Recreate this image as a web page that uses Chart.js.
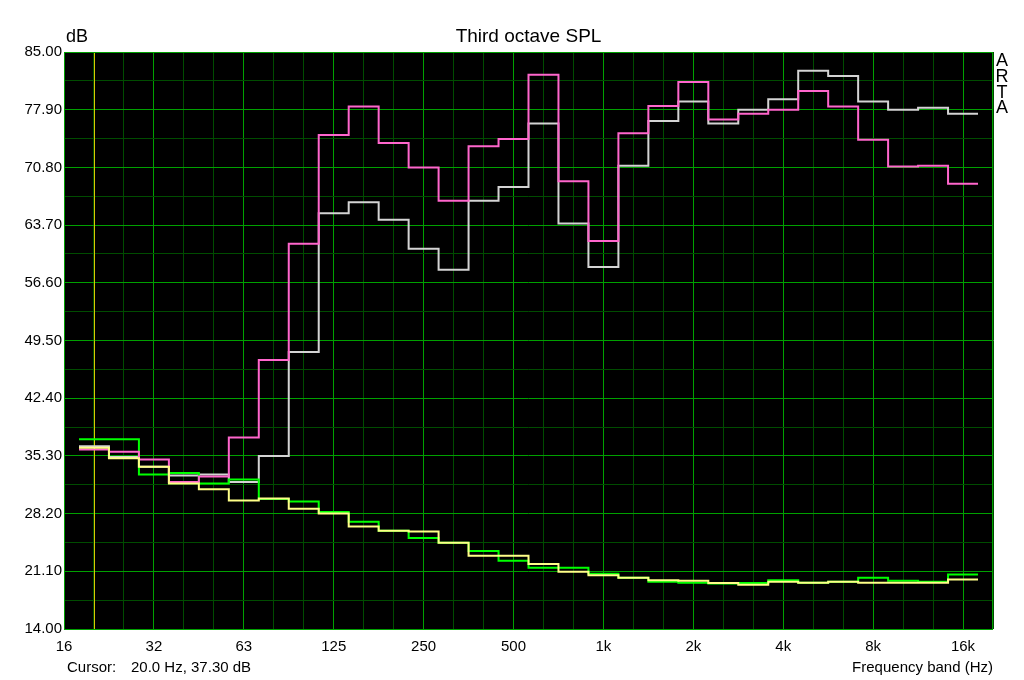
<!DOCTYPE html>
<html>
<head>
<meta charset="utf-8">
<title>Third octave SPL</title>
<script src="https://cdn.jsdelivr.net/npm/chart.js@4/dist/chart.umd.min.js"></script>
<style>
    html, body { margin: 0; padding: 0; background: #ffffff; }
    #wrap { width: 1024px; height: 680px; }
</style>
</head>
<body>
<div id="wrap"><canvas id="spl" width="1024" height="680"></canvas></div>
<script>
// Third octave bands (centre frequencies)
const bands = ['20', '25', '31.5', '40', '50', '63', '80', '100', '125', '160', '200', '250', '315',
    '400', '500', '630', '800', '1k', '1.25k', '1.6k', '2k', '2.5k', '3.15k', '4k', '5k', '6.3k',
    '8k', '10k', '12.5k', '16k'];

// Octave labels on the x axis (every third band, starting at 16 Hz)
const octaveLabels = ['16', '32', '63', '125', '250', '500', '1k', '2k', '4k', '8k', '16k'];

// Y axis range in dB
const dbMin = 14;
const dbMax = 85;
const dbStep = 3.55;

// Measured levels per band (dB)
const pinkLevels = [36.1, 35.8, 34.85, 32.1, 32.75, 37.55, 47.1, 61.4, 74.8, 78.3, 73.8, 70.8, 66.7,
    73.4, 74.3, 82.2, 69.1, 61.75, 75.0, 78.35, 81.3, 76.7, 77.4, 77.9, 80.2, 78.3, 74.2, 70.9, 71.0, 68.8];

const grayLevels = [36.5, 35.15, 33.95, 32.9, 33.0, 32.1, 35.3, 48.1, 65.15, 66.5, 64.35, 60.8, 58.2,
    66.7, 68.4, 76.2, 63.9, 58.55, 71.0, 76.5, 78.9, 76.2, 77.9, 79.2, 82.7, 82.05, 78.9, 77.9, 78.15, 77.4];

const greenLevels = [37.35, 37.35, 33.0, 33.2, 31.9, 32.4, 30.0, 29.7, 28.4, 27.2, 26.1, 25.2, 24.6,
    23.6, 22.4, 21.55, 21.55, 20.8, 20.3, 19.8, 19.7, 19.6, 19.65, 20.0, 19.7, 19.8, 20.3, 19.95, 19.8, 20.7];

const yellowLevels = [36.3, 35.0, 33.95, 31.9, 31.2, 29.8, 30.05, 28.8, 28.2, 26.6, 26.1, 26.0, 24.6,
    23.0, 23.0, 22.0, 21.05, 20.6, 20.3, 20.0, 19.95, 19.65, 19.45, 19.8, 19.7, 19.8, 19.7, 19.7, 19.7, 20.1];

// Cursor readout
const cursorBand = 0;
const cursorText = '20.0 Hz, 37.30 dB';

const FONT = 'Liberation Sans, Arial, sans-serif';
const MAJOR_GRID = '#00a000';
const MINOR_GRID = '#004c00';

// Each band becomes a flat segment across its own width
function toSteps(levels) {
    const pts = [];
    levels.forEach((v, i) => {
        pts.push({ x: i - 0.5, y: v });
        pts.push({ x: i + 0.5, y: v });
    });
    return pts;
}

function makeSet(label, levels, color) {
    return {
        label: label,
        data: toSteps(levels),
        borderColor: color,
        borderWidth: 2,
        pointRadius: 0,
        tension: 0,
        fill: false
    };
}

// Grid colours per tick index: x ticks run -1..30, y ticks 14..85 in half steps
const xGridColors = [];
for (let i = 0; i <= bands.length + 1; i++) {
    xGridColors.push(i % 3 === 0 ? MAJOR_GRID : MINOR_GRID);
}
const yGridColors = [];
for (let i = 0; i <= Math.round((dbMax - dbMin) / dbStep); i++) {
    yGridColors.push(i % 2 === 0 ? MAJOR_GRID : MINOR_GRID);
}

// Background, cursor, frame and text
const artaPlugin = {
    id: 'arta',
    beforeDraw(chart) {
        const ctx = chart.ctx;
        const a = chart.chartArea;
        ctx.save();
        ctx.fillStyle = '#ffffff';
        ctx.fillRect(0, 0, chart.width, chart.height);
        ctx.fillStyle = '#000000';
        ctx.fillRect(a.left, a.top, a.right - a.left, a.bottom - a.top);
        ctx.restore();
    },
    beforeDatasetsDraw(chart) {
        const ctx = chart.ctx;
        const a = chart.chartArea;
        const x = Math.round(chart.scales.x.getPixelForValue(cursorBand)) + 0.5;
        ctx.save();
        ctx.strokeStyle = '#d8c800';
        ctx.lineWidth = 1;
        ctx.beginPath();
        ctx.moveTo(x, a.top);
        ctx.lineTo(x, a.bottom);
        ctx.stroke();
        ctx.restore();
    },
    afterDraw(chart) {
        const ctx = chart.ctx;
        const a = chart.chartArea;
        ctx.save();
        ctx.strokeStyle = MAJOR_GRID;
        ctx.lineWidth = 1;
        ctx.strokeRect(a.left + 0.5, a.top + 0.5, a.right - a.left - 1, a.bottom - a.top);

        ctx.fillStyle = '#000000';
        ctx.textBaseline = 'middle';
        ctx.font = '18px ' + FONT;
        ctx.textAlign = 'left';
        ctx.fillText('dB', 66, 37);
        ctx.font = '19px ' + FONT;
        ctx.textAlign = 'center';
        ctx.fillText('Third octave SPL', (a.left + a.right) / 2, 37);

        ctx.font = '15px ' + FONT;
        ctx.textAlign = 'left';
        ctx.fillText('Cursor:', 67, 668);
        ctx.fillText(cursorText, 131, 668);
        ctx.textAlign = 'right';
        ctx.fillText('Frequency band (Hz)', a.right, 668);

        // Vertical ARTA mark
        ctx.font = '18px ' + FONT;
        ctx.textAlign = 'center';
        ['A', 'R', 'T', 'A'].forEach((ch, i) => {
            ctx.fillText(ch, 1002, 61 + i * 15.8);
        });
        ctx.restore();
    }
};

function isMajorDb(value) {
    return Math.round((value - dbMin) / dbStep) % 2 === 0;
}

function isOctave(value) {
    return (Math.round(value) + 1) % 3 === 0;
}

const ctx = document.getElementById('spl').getContext('2d');

window.splChart = new Chart(ctx, {
    type: 'line',
    data: {
        datasets: [
            makeSet('Noise 2', yellowLevels, '#ffff88'),
            makeSet('Response 1', pinkLevels, '#ff66cc'),
            makeSet('Noise 1', greenLevels, '#00ff00'),
            makeSet('Response 2', grayLevels, '#d4d4d4')
        ]
    },
    options: {
        responsive: false,
        animation: false,
        devicePixelRatio: 1,
        layout: {
            padding: { top: 52, right: 31, left: 0, bottom: 0 }
        },
        plugins: {
            legend: { display: false },
            title: { display: false },
            tooltip: { enabled: false }
        },
        scales: {
            x: {
                type: 'linear',
                min: -1,
                max: bands.length,
                afterFit(scale) { scale.height = 51; },
                ticks: {
                    stepSize: 1,
                    autoSkip: false,
                    maxRotation: 0,
                    padding: 9,
                    color: '#000000',
                    font: { family: FONT, size: 15 },
                    callback: function (value) {
                        return isOctave(value) ? octaveLabels[(Math.round(value) + 1) / 3] : '';
                    }
                },
                grid: {
                    drawTicks: false,
                    lineWidth: 1,
                    color: xGridColors
                },
                border: { display: false }
            },
            y: {
                type: 'linear',
                min: dbMin,
                max: dbMax,
                afterFit(scale) { scale.width = 64; },
                ticks: {
                    stepSize: dbStep,
                    autoSkip: false,
                    padding: 2,
                    color: '#000000',
                    font: { family: FONT, size: 15 },
                    callback: function (value) {
                        return isMajorDb(value) ? value.toFixed(2) : '';
                    }
                },
                grid: {
                    drawTicks: false,
                    lineWidth: 1,
                    color: yGridColors
                },
                border: { display: false }
            }
        }
    },
    plugins: [artaPlugin]
});
</script>
</body>
</html>
